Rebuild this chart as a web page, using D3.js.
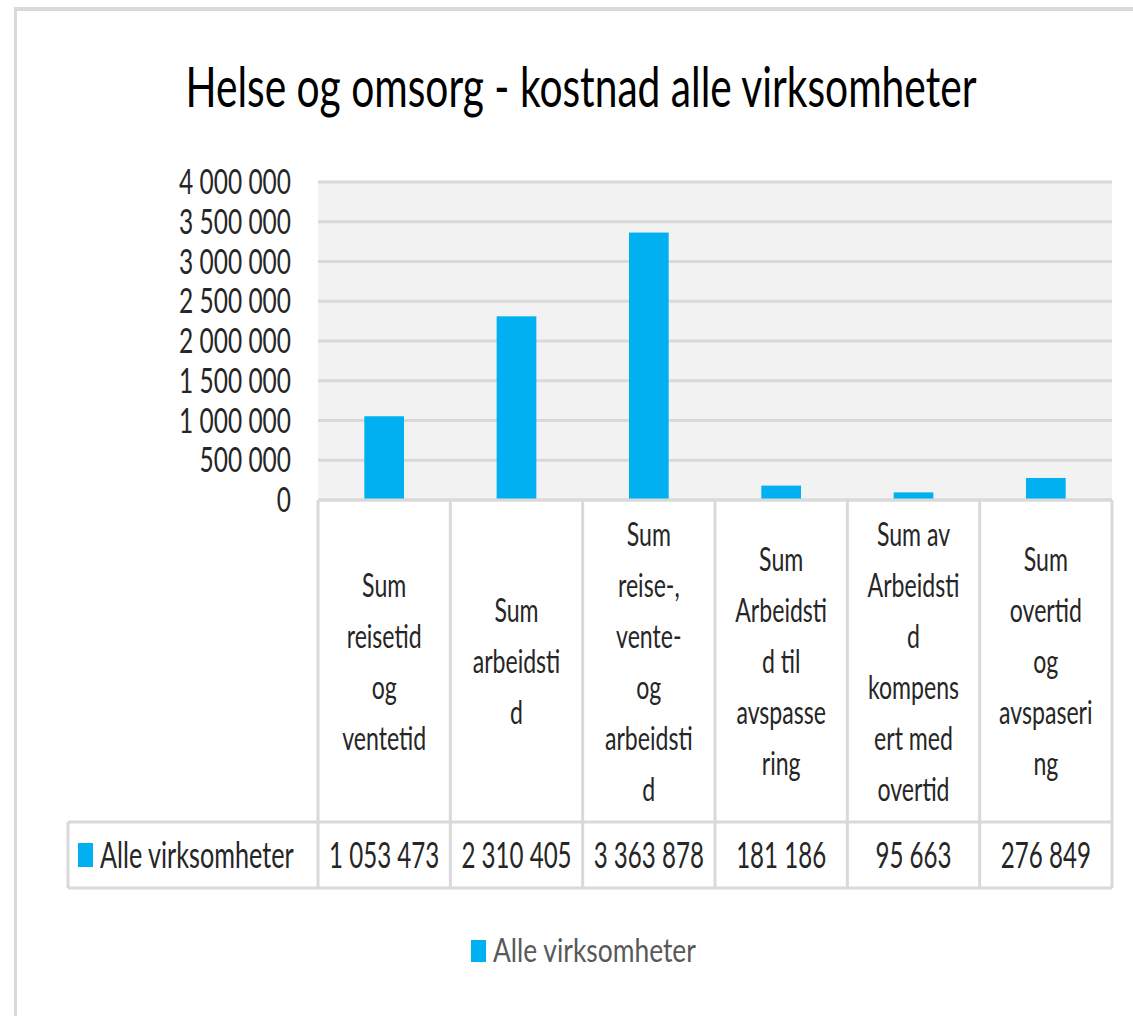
<!DOCTYPE html>
<html>
<head>
<meta charset="utf-8">
<script src="https://cdn.jsdelivr.net/npm/d3@7"></script>
<style>
  body { margin: 0; background: #fff; }
  text { font-family: Lato, "Open Sans", sans-serif; }
</style>
</head>
<body>
<div id="viz"></div>
<script>
(function() {

    var width = 1133;
    var height = 1016;

    //Chart data
    var title = "Helse og omsorg - kostnad alle virksomheter";
    var seriesName = "Alle virksomheter";
    var categoryLines = [
        ["Sum", "reisetid", "og", "ventetid"],
        ["Sum", "arbeidsti", "d"],
        ["Sum", "reise-,", "vente-", "og", "arbeidsti", "d"],
        ["Sum", "Arbeidsti", "d til", "avspasse", "ring"],
        ["Sum av", "Arbeidsti", "d", "kompens", "ert med", "overtid"],
        ["Sum", "overtid", "og", "avspaseri", "ng"]
    ];
    var values = [1053473, 2310405, 3363878, 181186, 95663, 276849];
    var yTicks = [0, 500000, 1000000, 1500000, 2000000, 2500000, 3000000, 3500000, 4000000];

    var barColor = "#00b0f0";
    var lineColor = "#d9d9d9";
    var textColor = "#262626";
    var SX = 0.7; //horizontal squeeze of the text

    //number format with space as thousands separator
    var nf = function(v) {
        return d3.format(",")(v).replace(/,/g, " ");
    };

    var svg = d3.select("#viz")
        .append("svg")
        .attr("width", width)
        .attr("height", height);

    //Plot area
    var plot = { left: 318, right: 1112, top: 182, bottom: 500 };
    var tableRow = { top: 822, bottom: 888, left: 68 };

    var x = d3.scaleBand()
        .domain(d3.range(values.length))
        .range([plot.left, plot.right])
        .padding(0);

    var y = d3.scaleLinear()
        .domain([0, 4000000])
        .range([plot.bottom, plot.top]);

    function addText(parent, px, py, str, size, anchor, color, sx) {
        return parent.append("text")
            .attr("transform", "translate(" + px + "," + py + ") scale(" + (sx || SX) + ",1)")
            .attr("text-anchor", anchor)
            .attr("font-size", size)
            .attr("fill", color || textColor)
            .text(str);
    }

    //outer chart frame (top and left edges visible)
    svg.append("line")
        .attr("x1", 14).attr("x2", width)
        .attr("y1", 9).attr("y2", 9)
        .attr("stroke", lineColor)
        .attr("stroke-width", 4);
    svg.append("line")
        .attr("x1", 15.5).attr("x2", 15.5)
        .attr("y1", 7).attr("y2", height)
        .attr("stroke", lineColor)
        .attr("stroke-width", 3);

    //Title
    addText(svg, 581, 107, title, 56, "middle", "#000", 0.727);

    //Plot background
    svg.append("rect")
        .attr("x", plot.left)
        .attr("y", plot.top)
        .attr("width", plot.right - plot.left)
        .attr("height", plot.bottom - plot.top)
        .attr("fill", "#f2f2f2");

    //Gridlines
    svg.selectAll(".grid")
        .data(yTicks)
        .enter().append("line")
        .attr("class", "grid")
        .attr("x1", plot.left)
        .attr("x2", plot.right)
        .attr("y1", function(d) { return y(d); })
        .attr("y2", function(d) { return y(d); })
        .attr("stroke", lineColor)
        .attr("stroke-width", 3);

    //Y tick labels
    var yLabels = svg.append("g");
    yTicks.forEach(function(t) {
        addText(yLabels, 291, y(t) + 12, nf(t), 35, "end");
    });

    //Bars
    var barW = x.bandwidth() * 0.3;
    svg.selectAll(".bar")
        .data(values)
        .enter().append("rect")
        .attr("class", "bar")
        .attr("x", function(d, i) { return x(i) + x.bandwidth() / 2 - barW / 2; })
        .attr("y", function(d) { return y(d); })
        .attr("width", barW)
        .attr("height", function(d) { return y(0) - y(d); })
        .attr("fill", barColor);

    //Data table lines
    var tbl = svg.append("g")
        .attr("stroke", lineColor)
        .attr("stroke-width", 3);

    //horizontal lines
    tbl.append("line")
        .attr("x1", plot.left).attr("x2", plot.right)
        .attr("y1", plot.bottom).attr("y2", plot.bottom);
    [tableRow.top, tableRow.bottom].forEach(function(yy) {
        tbl.append("line")
            .attr("x1", tableRow.left).attr("x2", plot.right)
            .attr("y1", yy).attr("y2", yy);
    });
    //vertical lines
    var edges = d3.range(values.length).map(function(i) { return x(i); }).concat([plot.right]);
    edges.forEach(function(xx) {
        tbl.append("line")
            .attr("x1", xx).attr("x2", xx)
            .attr("y1", plot.bottom).attr("y2", tableRow.bottom);
    });
    tbl.append("line")
        .attr("x1", tableRow.left).attr("x2", tableRow.left)
        .attr("y1", tableRow.top).attr("y2", tableRow.bottom);

    //Category labels (wrapped as in the data table)
    var lineH = 51;
    var catMid = (plot.bottom + tableRow.top) / 2;
    var cats = svg.append("g");
    categoryLines.forEach(function(lines, i) {
        var cx = x(i) + x.bandwidth() / 2;
        var y0 = catMid - (lines.length - 1) * lineH / 2 + 12;
        lines.forEach(function(l, j) {
            addText(cats, cx, y0 + j * lineH, l, 33, "middle");
        });
    });

    //Values row
    var rowMid = (tableRow.top + tableRow.bottom) / 2;
    var vals = svg.append("g");
    values.forEach(function(v, i) {
        addText(vals, x(i) + x.bandwidth() / 2, rowMid + 13, nf(v), 36, "middle", textColor, 0.67);
    });

    //Row header with legend key
    svg.append("rect")
        .attr("x", 78)
        .attr("y", rowMid - 12)
        .attr("width", 15)
        .attr("height", 24)
        .attr("fill", barColor);
    addText(svg, 100, rowMid + 13, seriesName, 36, "start");

    //Legend below
    svg.append("rect")
        .attr("x", 471)
        .attr("y", 940)
        .attr("width", 15)
        .attr("height", 22)
        .attr("fill", barColor);
    addText(svg, 493, 962, seriesName, 33, "start", "#595959", 0.8);

})();
</script>
</body>
</html>
